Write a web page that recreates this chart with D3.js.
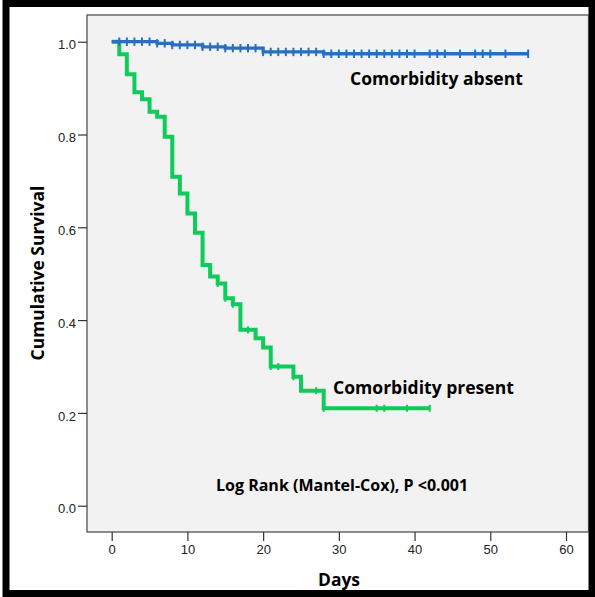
<!DOCTYPE html>
<html><head><meta charset="utf-8">
<script src="https://cdn.jsdelivr.net/npm/d3@7"></script>
<style>body{margin:0;background:#fff}</style>
</head><body><svg id="c" width="595" height="597"></svg>
<script>
// Comorbidity absent
const absentTimes = [0, 6, 8, 12, 15, 20, 28];
const absentSurv  = [1, 0.9965, 0.993, 0.989, 0.986, 0.978, 0.974];
const absentEnd = 55;
const absentCensor = [1,2,3,4,5,6,7,8,9,10,11,12,13,14,15,16,17,18,19,20,21,22,23,24,25,26,27,28,29,30,31,32,33,34,35,36,37,38,39,40,42,43,44,46,48,49,50,52,55];
// Comorbidity present
const presentTimes = [0, 1, 2, 3, 4, 5, 6, 7, 8, 9, 10, 11, 12, 13, 14, 15, 16, 17, 19, 20, 21, 24, 25, 28];
const presentSurv  = [1, 0.973, 0.930, 0.891, 0.876, 0.849, 0.838, 0.795, 0.709, 0.673, 0.630, 0.588, 0.519, 0.494, 0.479, 0.447, 0.434, 0.379, 0.361, 0.341, 0.300, 0.278, 0.248, 0.210];
const presentEnd = 42;
const presentCensor = [14, 15, 16, 18, 21, 22, 24, 27, 28, 35, 36, 39, 42];
const xTicks = [0, 10, 20, 30, 40, 50, 60];
const yTicks = [0, 0.2, 0.4, 0.6, 0.8, 1.0];
const labels = {absent: "Comorbidity absent", present: "Comorbidity present",
  test: "Log Rank (Mantel-Cox), P <0.001", xTitle: "Days", yTitle: "Cumulative Survival"};

const svg = d3.select("#c");
const P = {l: 87, r: 588.5, t: 15, b: 532};
const x = d3.scaleLinear().domain([0, 60]).range([111.7, 566]);
const y = d3.scaleLinear().domain([0, 1]).range([505.7, 41.7]);
const blue = "#2a6ebf", green = "#0fcc5a";
const titleFont = "'Open Sans', Lato, sans-serif";

// outer frame
svg.append("rect").attr("x", 6).attr("y", 3.5).attr("width", 586).attr("height", 590)
  .attr("fill", "#fff").attr("stroke", "#000").attr("stroke-width", 7);

// plot area
svg.append("rect").attr("x", P.l).attr("y", P.t).attr("width", P.r - P.l).attr("height", P.b - P.t)
  .attr("fill", "#f2f2f2").attr("stroke", "#444").attr("stroke-width", 1.2);

// axes
const ya = svg.append("g").attr("transform", `translate(${P.l},0)`)
  .call(d3.axisLeft(y).tickValues(yTicks).tickFormat(d3.format(".1f")).tickSize(9).tickPadding(2));
const xa = svg.append("g").attr("transform", `translate(0,${P.b})`)
  .call(d3.axisBottom(x).tickValues(xTicks).tickFormat(d3.format("d")).tickSize(9).tickPadding(4));
[ya, xa].forEach(g => {
  g.select(".domain").remove();
  g.selectAll(".tick line").attr("stroke", "#333").attr("stroke-width", 1.2);
  g.selectAll(".tick text").attr("fill", "#222").style("font-family", "'Liberation Sans', Arial, sans-serif").style("font-size", "13px");
});
ya.selectAll(".tick text").attr("dy", "0.55em");

// curves
function stepData(times, surv, end) {
  const d = times.map((t, i) => [t, surv[i]]);
  d.push([end, surv[surv.length - 1]]);
  return d;
}
function survAt(times, surv, t) {
  let s = surv[0];
  for (let i = 0; i < times.length; i++) if (times[i] <= t) s = surv[i];
  return s;
}
const line = d3.line().x(d => x(d[0])).y(d => y(d[1])).curve(d3.curveStepAfter);

function drawGroup(times, surv, end, censor, color, lw, th) {
  const g = svg.append("g");
  g.append("path").datum(stepData(times, surv, end)).attr("d", line)
    .attr("fill", "none").attr("stroke", color).attr("stroke-width", lw).attr("stroke-linejoin", "miter");
  g.selectAll("line.c").data(censor).enter().append("line")
    .attr("x1", d => x(d)).attr("x2", d => x(d))
    .attr("y1", d => y(survAt(times, surv, d)) - th).attr("y2", d => y(survAt(times, surv, d)) + th)
    .attr("stroke", color).attr("stroke-width", 2);
}
drawGroup(presentTimes, presentSurv, presentEnd, presentCensor, green, 4, 3.5);
drawGroup(absentTimes, absentSurv, absentEnd, absentCensor, blue, 3.3, 4.2);

// annotations: font size fitted to the reference text width
function fit(sel, width, base) {
  sel.style("font-size", base + "px");
  const w = sel.node().getComputedTextLength();
  sel.style("font-size", (base * width / w).toFixed(2) + "px");
  return sel;
}
function txt(s, xx, yy, width, anchor) {
  const t = svg.append("text").text(s).attr("x", xx).attr("y", yy)
    .style("font-family", titleFont).style("font-weight", 700)
    .attr("text-anchor", anchor || "start").attr("fill", "#000");
  return fit(t, width, 16);
}
txt(labels.absent, 350, 85, 173);
txt(labels.present, 333, 394, 181);
txt(labels.test, 216, 491, 252);
txt(labels.xTitle, 339, 586, 42, "middle");
const yt = svg.append("text").text(labels.yTitle)
  .attr("transform", "translate(44,273) rotate(-90)").attr("text-anchor", "middle")
  .style("font-family", titleFont).style("font-weight", 700).attr("fill", "#000");
fit(yt, 175, 16);
</script>
</body></html>
